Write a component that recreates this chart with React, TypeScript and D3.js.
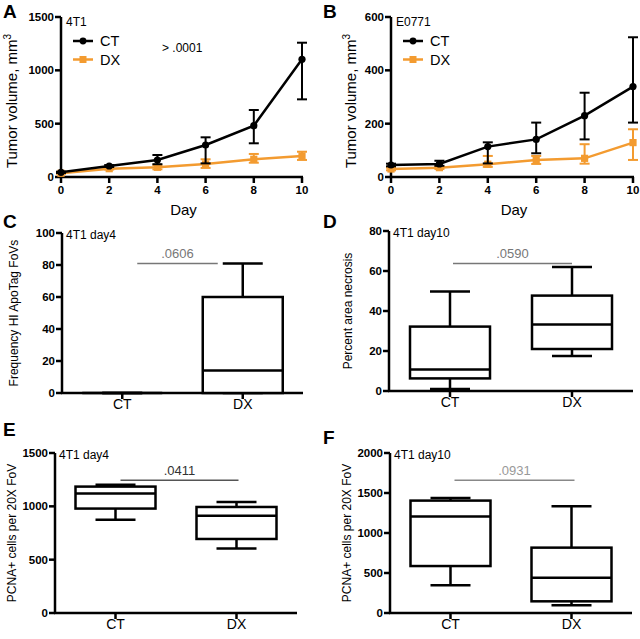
import React from "react";
import * as d3 from "d3";

// ---------- DATA ----------
const days = [0, 2, 4, 6, 8, 10];

// Panel A (4T1 tumor volume)
const aCTMean = [44, 103, 159, 300, 481, 1103];
const aCTHi = [50, 112, 206, 372, 628, 1259];
const aCTLo = [38, 94, 120, 128, 316, 728];
const aDXMean = [35, 78, 91, 122, 166, 197];
const aDXHi = [40, 86, 110, 166, 216, 237];
const aDXLo = [30, 70, 72, 85, 134, 160];
const aYTicks = [0, 500, 1000, 1500];

// Panel B (E0771 tumor volume)
const bCTMean = [45, 49, 114, 141, 230, 339];
const bCTHi = [50, 61, 130, 204, 316, 524];
const bCTLo = [40, 42, 51, 89, 141, 204];
const bDXMean = [30, 35, 48, 64, 70, 129];
const bDXHi = [35, 40, 79, 79, 123, 179];
const bDXLo = [25, 30, 38, 49, 50, 64];
const bYTicks = [0, 200, 400, 600];

const dayTicks = [0, 2, 4, 6, 8, 10];
const groups = ["CT", "DX"];

// Box stats: [min, q1, median, q3, max]
const cCT = [0, 0, 0, 0, 0];
const cDX = [0, 0, 14, 60, 81];
const cYTicks = [0, 20, 40, 60, 80, 100];

const dCT = [1, 6.3, 10.7, 32.2, 49.8];
const dDX = [17.5, 21, 33.3, 47.7, 62];
const dYTicks = [0, 20, 40, 60, 80];

const eCT = [875, 979, 1120, 1185, 1203];
const eDX = [604, 694, 912, 994, 1040];
const eYTicks = [0, 500, 1000, 1500];

const fCT = [346, 587, 1205, 1405, 1437];
const fDX = [96, 146, 442, 817, 1334];
const fYTicks = [0, 500, 1000, 1500, 2000];

// ---------- STYLE ----------
const ORANGE = "#f39b30";
const FONT = "'Liberation Sans', Arial, Helvetica, sans-serif";

type Series = { mean: number[]; hi: number[]; lo: number[]; color: string; marker: "circle" | "square"; name: string };

function PanelLetter({ x, y, t }: { x: number; y: number; t: string }) {
  return (
    <text x={x} y={y} fontFamily={FONT} fontWeight="bold" fontSize={19} fill="#000">
      {t}
    </text>
  );
}

function YAxis({ x, scale, ticks, fontSize = 11.5 }: { x: number; scale: d3.ScaleLinear<number, number>; ticks: number[]; fontSize?: number }) {
  const [d0, d1] = scale.domain();
  return (
    <g>
      <line x1={x} x2={x} y1={scale(d0) + 1} y2={scale(d1)} stroke="#000" strokeWidth={2.5} />
      {ticks.map((t) => (
        <g key={t}>
          <line x1={x - 6} x2={x} y1={scale(t)} y2={scale(t)} stroke="#000" strokeWidth={2.5} />
          <text x={x - 7} y={scale(t)} dy="0.36em" textAnchor="end" fontFamily={FONT} fontWeight="bold" fontSize={fontSize}>
            {t}
          </text>
        </g>
      ))}
    </g>
  );
}

function LinePanel(props: {
  xr: [number, number];
  yr: [number, number];
  yMax: number;
  yTicks: number[];
  series: Series[];
  tag: string;
  note?: string;
  legendX: number;
  labelOff: number;
}) {
  const { xr, yr, yMax, yTicks, series, tag, note, legendX, labelOff } = props;
  const x = d3.scaleLinear().domain([0, 10]).range(xr);
  const y = d3.scaleLinear().domain([0, yMax]).range(yr);
  const line = d3
    .line<number>()
    .x((_, i) => x(days[i]))
    .y((d) => y(d));
  const baseY = y(0);
  return (
    <g>
      {/* x axis */}
      <line x1={xr[0] - 1} x2={xr[1] + 1} y1={baseY} y2={baseY} stroke="#000" strokeWidth={2.5} />
      {dayTicks.map((t) => (
        <g key={t}>
          <line x1={x(t)} x2={x(t)} y1={baseY} y2={baseY + 6} stroke="#000" strokeWidth={2.5} />
          <text x={x(t)} y={baseY + 17} textAnchor="middle" fontFamily={FONT} fontWeight="bold" fontSize={11.5}>
            {t}
          </text>
        </g>
      ))}
      <text x={(xr[0] + xr[1]) / 2 + 2} y={baseY + 38} textAnchor="middle" fontFamily={FONT} fontSize={15}>
        Day
      </text>
      <YAxis x={xr[0]} scale={y} ticks={yTicks} />
      <text
        transform={`translate(${xr[0] - labelOff},${(yr[0] + yr[1]) / 2 + 4}) rotate(-90)`}
        textAnchor="middle"
        fontFamily={FONT}
        fontSize={15}
      >
        Tumor volume, mm<tspan dy={-6} fontSize={10}>3</tspan>
      </text>
      <text x={xr[0] + 5} y={yr[1] + 9} fontFamily={FONT} fontSize={12}>
        {tag}
      </text>
      {note && (
        <text x={xr[0] + 101} y={yr[1] + 35} fontFamily={FONT} fontSize={12}>
          {note}
        </text>
      )}
      {/* series: DX drawn first, CT on top */}
      {series
        .slice()
        .reverse()
        .map((s) => (
          <g key={s.name}>
            {s.mean.map((m, i) => (
              <g key={i}>
                <line x1={x(days[i])} x2={x(days[i])} y1={y(s.hi[i])} y2={y(s.lo[i])} stroke={s.color} strokeWidth={2} />
                <line x1={x(days[i]) - 5} x2={x(days[i]) + 5} y1={y(s.hi[i])} y2={y(s.hi[i])} stroke={s.color} strokeWidth={2} />
                <line x1={x(days[i]) - 5} x2={x(days[i]) + 5} y1={y(s.lo[i])} y2={y(s.lo[i])} stroke={s.color} strokeWidth={2} />
              </g>
            ))}
            <path d={line(s.mean) || ""} fill="none" stroke={s.color} strokeWidth={2.5} />
            {s.mean.map((m, i) =>
              s.marker === "circle" ? (
                <circle key={i} cx={x(days[i])} cy={y(m)} r={3.6} fill={s.color} />
              ) : (
                <rect key={i} x={x(days[i]) - 3.6} y={y(m) - 3.6} width={7.2} height={7.2} fill={s.color} />
              )
            )}
          </g>
        ))}
      {/* legend */}
      {series.map((s, i) => {
        const ly = yr[1] + 24 + i * 18.5;
        return (
          <g key={s.name}>
            <line x1={legendX} x2={legendX + 20} y1={ly} y2={ly} stroke={s.color} strokeWidth={2.5} />
            {s.marker === "circle" ? (
              <circle cx={legendX + 10} cy={ly} r={3.4} fill={s.color} />
            ) : (
              <rect x={legendX + 6.5} y={ly - 3.5} width={7} height={7} fill={s.color} />
            )}
            <text x={legendX + 27} y={ly} dy="0.36em" fontFamily={FONT} fontSize={14.5}>
              {s.name}
            </text>
          </g>
        );
      })}
    </g>
  );
}

function BoxPanel(props: {
  xr: [number, number];
  yr: [number, number];
  yMax: number;
  yTicks: number[];
  data: number[][];
  tag: string;
  ylabel: string;
  labelOff: number;
  sig: string;
  sigVal: number;
  sigX: [number, number];
  sigColor: string;
  sigTextColor: string;
}) {
  const { xr, yr, yMax, yTicks, data, tag, ylabel, labelOff, sig, sigVal, sigX, sigColor, sigTextColor } = props;
  const x = d3.scalePoint<string>().domain(groups).range(xr).padding(0.5);
  const y = d3.scaleLinear().domain([0, yMax]).range(yr);
  const baseY = y(0);
  const bw = 80;
  const cw = 40;
  const labelX = xr[0] - labelOff;
  return (
    <g>
      <line x1={xr[0] - 1} x2={xr[1]} y1={baseY} y2={baseY} stroke="#000" strokeWidth={2.5} />
      {groups.map((g) => (
        <g key={g}>
          <line x1={x(g)!} x2={x(g)!} y1={baseY} y2={baseY + 6} stroke="#000" strokeWidth={2.5} />
          <text x={x(g)!} y={baseY + 16} textAnchor="middle" fontFamily={FONT} fontSize={14}>
            {g}
          </text>
        </g>
      ))}
      <YAxis x={xr[0]} scale={y} ticks={yTicks} />
      <text
        transform={`translate(${labelX},${(yr[0] + yr[1]) / 2}) rotate(-90)`}
        textAnchor="middle"
        fontFamily={FONT}
        fontSize={12}
      >
        {ylabel}
      </text>
      <text x={xr[0] + 4} y={yr[1] + 6} fontFamily={FONT} fontSize={12}>
        {tag}
      </text>
      {/* significance */}
      <line x1={x(groups[0])! + sigX[0]} x2={x(groups[1])! + sigX[1]} y1={y(sigVal)} y2={y(sigVal)} stroke={sigColor} strokeWidth={1.5} />
      <text
        x={(x(groups[0])! + sigX[0] + x(groups[1])! + sigX[1]) / 2}
        y={y(sigVal) - 5}
        textAnchor="middle"
        fontFamily={FONT}
        fontSize={13}
        fill={sigTextColor}
      >
        {sig}
      </text>
      {data.map((s, i) => {
        const cx = x(groups[i])!;
        const [mn, q1, md, q3, mx] = s;
        return (
          <g key={i} stroke="#000" strokeWidth={2.5} fill="none">
            <line x1={cx} x2={cx} y1={y(q3)} y2={y(mx)} />
            <line x1={cx} x2={cx} y1={y(q1)} y2={y(mn)} />
            <line x1={cx - cw / 2} x2={cx + cw / 2} y1={y(mx)} y2={y(mx)} />
            <line x1={cx - cw / 2} x2={cx + cw / 2} y1={y(mn)} y2={y(mn)} />
            <rect x={cx - bw / 2} y={y(q3)} width={bw} height={Math.max(0, y(q1) - y(q3))} fill="#fff" />
            <line x1={cx - bw / 2} x2={cx + bw / 2} y1={y(md)} y2={y(md)} />
          </g>
        );
      })}
    </g>
  );
}

export default function App() {
  const ctA: Series = { mean: aCTMean, hi: aCTHi, lo: aCTLo, color: "#000", marker: "circle", name: "CT" };
  const dxA: Series = { mean: aDXMean, hi: aDXHi, lo: aDXLo, color: ORANGE, marker: "square", name: "DX" };
  const ctB: Series = { mean: bCTMean, hi: bCTHi, lo: bCTLo, color: "#000", marker: "circle", name: "CT" };
  const dxB: Series = { mean: bDXMean, hi: bDXHi, lo: bDXLo, color: ORANGE, marker: "square", name: "DX" };
  return (
    <svg width={640} height={639} style={{ position: "absolute", left: 0, top: 0, background: "#fff" }}>
      <rect width={640} height={639} fill="#fff" />
      <PanelLetter x={3} y={18} t="A" />
      <PanelLetter x={323} y={18} t="B" />
      <PanelLetter x={3} y={228} t="C" />
      <PanelLetter x={323} y={228} t="D" />
      <PanelLetter x={3} y={436} t="E" />
      <PanelLetter x={323} y={444} t="F" />

      <LinePanel xr={[61, 302]} yr={[177, 17]} yMax={1500} yTicks={aYTicks} series={[ctA, dxA]} tag="4T1" note="> .0001" legendX={73} labelOff={44} />
      <LinePanel xr={[391, 633]} yr={[177, 17]} yMax={600} yTicks={bYTicks} series={[ctB, dxB]} tag="E0771" legendX={403} labelOff={35} />

      <BoxPanel
        xr={[62, 303]}
        yr={[393, 233]}
        yMax={100}
        yTicks={cYTicks}
        data={[cCT, cDX]}
        tag="4T1 day4"
        ylabel="Frequency HI ApoTag FoVs"
        labelOff={44}
        sig=".0606"
        sigVal={81}
        sigX={[15, -25]}
        sigColor="#777"
        sigTextColor="#777"
      />
      <BoxPanel
        xr={[389, 633]}
        yr={[391, 231]}
        yMax={80}
        yTicks={dYTicks}
        data={[dCT, dDX]}
        tag="4T1 day10"
        ylabel="Percent area necrosis"
        labelOff={37}
        sig=".0590"
        sigVal={63.8}
        sigX={[3, 0]}
        sigColor="#777"
        sigTextColor="#777"
      />
      <BoxPanel
        xr={[55, 297]}
        yr={[613, 453]}
        yMax={1500}
        yTicks={eYTicks}
        data={[eCT, eDX]}
        tag="4T1 day4"
        ylabel="PCNA+ cells per 20X FoV"
        labelOff={39}
        sig=".0411"
        sigVal={1244}
        sigX={[5, 2]}
        sigColor="#555"
        sigTextColor="#333"
      />
      <BoxPanel
        xr={[390, 632]}
        yr={[613, 453]}
        yMax={2000}
        yTicks={fYTicks}
        data={[fCT, fDX]}
        tag="4T1 day10"
        ylabel="PCNA+ cells per 20X FoV"
        labelOff={39}
        sig=".0931"
        sigVal={1659}
        sigX={[4, 3]}
        sigColor="#888"
        sigTextColor="#999"
      />
    </svg>
  );
}
